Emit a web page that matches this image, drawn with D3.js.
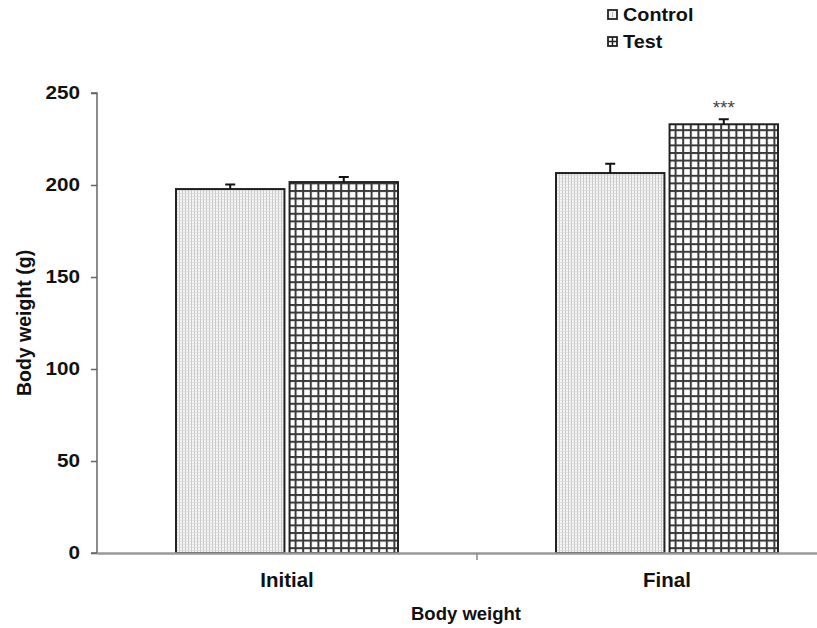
<!DOCTYPE html>
<html><head><meta charset="utf-8">
<script src="https://cdn.jsdelivr.net/npm/d3@7"></script>
<style>body{margin:0;background:#fff}svg{display:block}</style>
</head><body>
<svg id="c" width="817" height="628"></svg>
<script>
const categories = ["Initial", "Final"];
const seriesNames = ["Control", "Test"];
const controlValues = [197.8, 206.5];
const testValues = [201.6, 233.0];
const controlErrors = [2.5, 5.0];
const testErrors = [2.7, 2.7];
const significance = ["", "***"];
const yTicks = [0, 50, 100, 150, 200, 250];

const svg = d3.select("#c");
const font = "'Liberation Sans', Arial, sans-serif";
function stretch(sel, k){ sel.each(function(){ const w=this.getComputedTextLength(); d3.select(this).attr("textLength", w*k).attr("lengthAdjust","spacingAndGlyphs"); }); }

const defs = svg.append("defs");
const pc = defs.append("pattern").attr("id","pControl").attr("patternUnits","userSpaceOnUse").attr("width",3).attr("height",3);
pc.append("rect").attr("width",3).attr("height",3).attr("fill","#f4f4f4");
pc.append("rect").attr("x",1).attr("width",1).attr("height",3).attr("fill","#c8c8c8");
pc.append("rect").attr("y",1).attr("width",3).attr("height",0.6).attr("fill","#d8d8d8");
const pt = defs.append("pattern").attr("id","pTest").attr("patternUnits","userSpaceOnUse").attr("width",7.6).attr("height",7.6);
pt.append("rect").attr("width",7.6).attr("height",7.6).attr("fill","#fff");
pt.append("rect").attr("x",0).attr("width",2).attr("height",7.6).attr("fill","#3a3a3a");
pt.append("rect").attr("y",0).attr("width",7.6).attr("height",2).attr("fill","#3a3a3a");
const fills = {Control:"url(#pControl)", Test:"url(#pTest)"};

const y = d3.scaleLinear().domain([0,250]).range([553,93]);
const x = d3.scaleBand().domain(categories).range([97,857]).padding(0);
const xs = d3.scaleBand().domain(seriesNames).range([79,301]).paddingInner(0.045);

const data = categories.map((c,i)=>({cat:c, sig:significance[i], bars:[
  {s:"Control", v:controlValues[i], e:controlErrors[i]},
  {s:"Test", v:testValues[i], e:testErrors[i]}]}));

// y axis
const yAxis = d3.axisLeft(y).tickValues(yTicks).tickSize(6).tickPadding(11);
const gy = svg.append("g").attr("transform","translate(97,0)").call(yAxis);
gy.select(".domain").attr("stroke","#666").attr("stroke-width",1.5).attr("d","M-6,93H0V553H-6");
gy.selectAll(".tick line").attr("stroke","#666").attr("stroke-width",1.5);
gy.selectAll(".tick text").attr("font-family",font).attr("font-weight","bold").attr("font-size",18).attr("fill","#111").call(stretch,1.15);

// bars
const g = svg.append("g").selectAll("g").data(data).join("g").attr("transform",d=>`translate(${x(d.cat)},0)`);
g.selectAll("rect").data(d=>d.bars).join("rect")
  .attr("x",d=>xs(d.s)).attr("width",xs.bandwidth())
  .attr("y",d=>y(d.v)).attr("height",d=>y(0)-y(d.v))
  .attr("fill",d=>fills[d.s]).attr("stroke","#222").attr("stroke-width",2);
g.selectAll("path.err").data(d=>d.bars).join("path").attr("class","err")
  .attr("d",d=>{const cx=xs(d.s)+xs.bandwidth()/2;return `M${cx},${y(d.v)}V${y(d.v+d.e)}M${cx-5},${y(d.v+d.e)}H${cx+5}`;})
  .attr("stroke","#111").attr("stroke-width",2).attr("fill","none");
g.append("text").text(d=>d.sig)
  .attr("x",xs("Test")+xs.bandwidth()/2).attr("y",d=>y(d.bars[1].v+d.bars[1].e)-5)
  .attr("text-anchor","middle").attr("font-family",font).attr("font-size",19).attr("fill","#444");

// x axis
const xAxis = d3.axisBottom(x).tickSize(0).tickPadding(20);
const gx = svg.append("g").attr("transform","translate(0,553)").call(xAxis);
gx.select(".domain").attr("stroke","#999").attr("stroke-width",2.5);
gx.selectAll(".tick text").attr("font-family",font).attr("font-weight","bold").attr("font-size",19.5).attr("fill","#111").call(stretch,1.05);
svg.append("g").selectAll("line").data(categories.slice(1)).join("line")
  .attr("x1",d=>x(d)).attr("x2",d=>x(d)).attr("y1",553).attr("y2",560).attr("stroke","#888").attr("stroke-width",1.5);

// titles
svg.append("text").text("Body weight").attr("x",466).attr("y",620).attr("text-anchor","middle")
  .attr("font-family",font).attr("font-weight","bold").attr("font-size",18.5).attr("fill","#111");
svg.append("text").text("Body weight (g)").attr("transform","translate(31,323) rotate(-90)").attr("text-anchor","middle")
  .attr("font-family",font).attr("font-weight","bold").attr("font-size",19.5).attr("fill","#111");

// legend
const lg = svg.append("g").selectAll("g").data(seriesNames).join("g").attr("transform",(d,i)=>`translate(608,${10+i*27})`);
lg.append("rect").attr("width",9).attr("height",9).attr("fill",d=>d==="Control"?"#f2f2f2":"#fff").attr("stroke","#222").attr("stroke-width",1.8);
lg.filter(d=>d==="Test").append("path").attr("d","M4.5,0V9M0,4.5H9").attr("stroke","#222").attr("stroke-width",1.5);
lg.filter(d=>d==="Control").append("path").attr("d","M4.5,2V7").attr("stroke","#bbb").attr("stroke-width",1);
lg.append("text").text(d=>d).attr("x",15).attr("y",11).attr("font-family",font).attr("font-weight","bold").attr("font-size",18).attr("fill","#111").call(stretch,1.1);
</script>
</body></html>
